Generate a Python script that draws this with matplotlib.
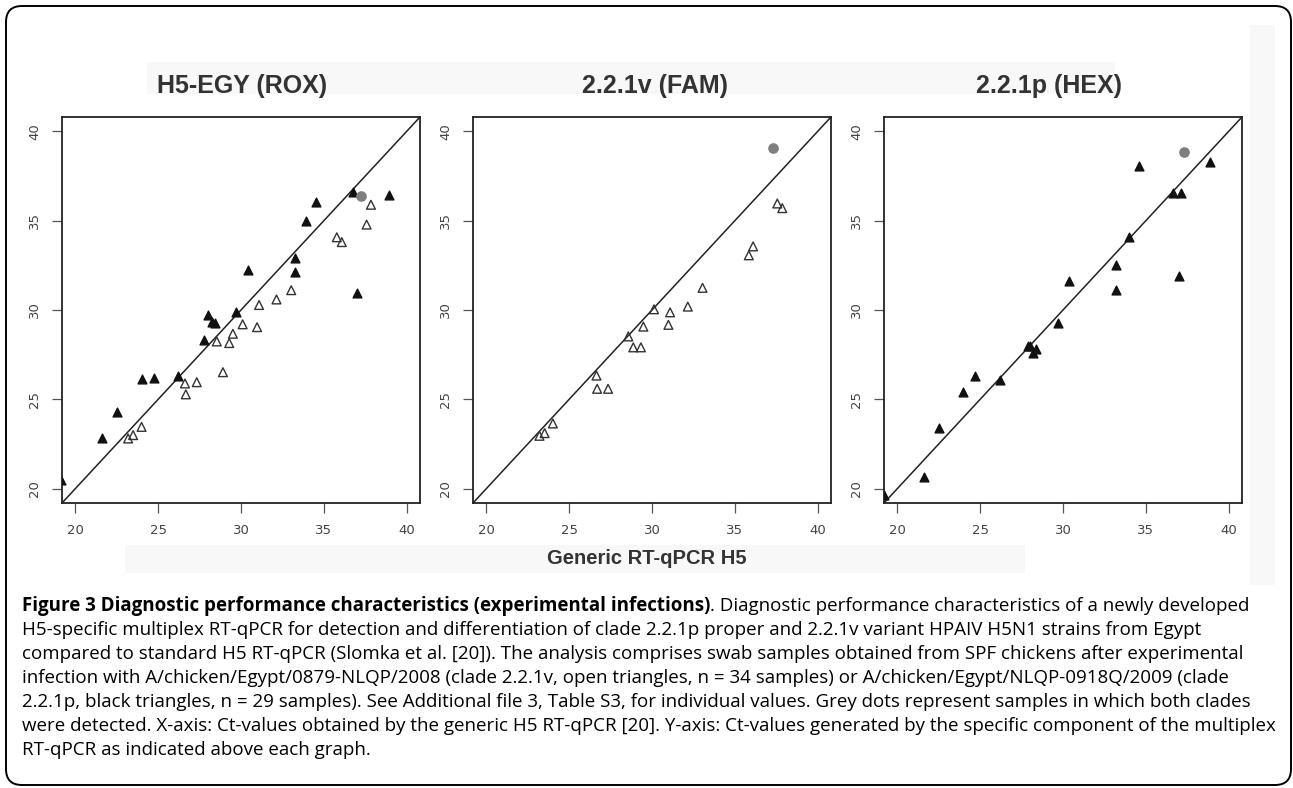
import matplotlib.pyplot as plt
from matplotlib.patches import FancyBboxPatch, Rectangle

# panel titles
titles = ["H5-EGY (ROX)", "2.2.1v (FAM)", "2.2.1p (HEX)"]
ticks = [20, 25, 30, 35, 40]

# H5-EGY (ROX)
rox_open_x = [37.84, 37.58, 35.78, 36.08, 33.03, 32.14, 31.09, 30.10, 30.97, 29.51,
              29.29, 28.54, 28.91, 26.62, 27.33, 26.67, 24.00, 23.49, 23.19]
rox_open_y = [35.89, 34.78, 34.07, 33.80, 31.11, 30.59, 30.28, 29.20, 29.04, 28.67,
              28.15, 28.24, 26.52, 25.89, 25.96, 25.28, 23.46, 23.00, 22.81]
rox_black_x = [36.73, 38.95, 34.50, 33.94, 33.23, 33.25, 30.40, 36.99, 29.72, 27.98,
               28.24, 28.45, 27.76, 24.00, 24.75, 26.22, 22.52, 21.59, 19.15]
rox_black_y = [36.61, 36.44, 36.02, 35.00, 32.91, 32.11, 32.26, 30.96, 29.91, 29.72,
               29.35, 29.30, 28.30, 26.15, 26.20, 26.30, 24.30, 22.81, 20.46]
rox_grey_x = [37.27]
rox_grey_y = [36.39]

# 2.2.1v (FAM)
fam_open_x = [37.56, 37.86, 36.10, 35.84, 33.05, 32.16, 31.09, 30.99, 30.12, 29.48,
              28.57, 28.87, 29.33, 26.65, 26.69, 27.35, 24.02, 23.52, 23.21]
fam_open_y = [35.96, 35.70, 33.56, 33.06, 31.24, 30.19, 29.87, 29.17, 30.04, 29.07,
              28.52, 27.91, 27.91, 26.33, 25.59, 25.59, 23.65, 23.11, 22.96]
fam_black_x = []
fam_black_y = []
fam_grey_x = [37.32]
fam_grey_y = [39.07]

# 2.2.1p (HEX)
hex_open_x = []
hex_open_y = []
hex_black_x = [38.89, 34.56, 36.63, 37.14, 33.96, 33.17, 36.98, 30.39, 33.21, 29.69,
               27.88, 28.00, 28.38, 28.22, 26.21, 24.71, 23.99, 22.54, 21.63, 19.17]
hex_black_y = [38.28, 38.04, 36.57, 36.52, 34.11, 32.54, 31.89, 31.61, 31.11, 29.30,
               27.96, 28.00, 27.83, 27.59, 26.07, 26.33, 25.43, 23.39, 20.65, 19.63]
hex_grey_x = [37.28]
hex_grey_y = [38.85]

caption_bold = "Figure 3 Diagnostic performance characteristics (experimental infections)"
caption_lines = [
    ". Diagnostic performance characteristics of a newly developed",
    "H5-specific multiplex RT-qPCR for detection and differentiation of clade 2.2.1p proper and 2.2.1v variant HPAIV H5N1 strains from Egypt",
    "compared to standard H5 RT-qPCR (Slomka et al. [20]). The analysis comprises swab samples obtained from SPF chickens after experimental",
    "infection with A/chicken/Egypt/0879-NLQP/2008 (clade 2.2.1v, open triangles, n = 34 samples) or A/chicken/Egypt/NLQP-0918Q/2009 (clade",
    "2.2.1p, black triangles, n = 29 samples). See Additional file 3, Table S3, for individual values. Grey dots represent samples in which both clades",
    "were detected. X-axis: Ct-values obtained by the generic H5 RT-qPCR [20]. Y-axis: Ct-values generated by the specific component of the multiplex",
    "RT-qPCR as indicated above each graph.",
]

W, H = 1293, 788
fig = plt.figure(figsize=(W / 100, H / 100), dpi=100)

# background layer in pixel coordinates
bg = fig.add_axes([0, 0, 1, 1])
bg.set_xlim(0, W)
bg.set_ylim(H, 0)
bg.axis("off")
bg.add_patch(FancyBboxPatch((6, 6), W - 8, H - 9,
                            boxstyle="round,pad=0,rounding_size=16",
                            fc="white", ec="black", lw=1.4))
for x0, y0, w, h in [(147, 62, 968, 32), (125, 545, 900, 28), (1250, 25, 25, 560)]:
    bg.add_patch(Rectangle((x0, y0), w, h, fc="#f8f8f8", ec="none"))

panels = [
    (62, rox_open_x, rox_open_y, rox_black_x, rox_black_y, rox_grey_x, rox_grey_y),
    (473, fam_open_x, fam_open_y, fam_black_x, fam_black_y, fam_grey_x, fam_grey_y),
    (884, hex_open_x, hex_open_y, hex_black_x, hex_black_y, hex_grey_x, hex_grey_y),
]
title_x = [242, 655, 1049]

top, bottom = 117, 503
for i, (left, ox, oy, bx, by, gx, gy) in enumerate(panels):
    ax = fig.add_axes([left / W, 1 - bottom / H, 358 / W, (bottom - top) / H])
    ax.set_xlim(19.2, 40.8)
    ax.set_ylim(19.2, 40.8)
    ax.plot([19.2, 40.8], [19.2, 40.8], color="#222", lw=1.1, zorder=1)
    ax.scatter(ox, oy, marker="^", s=40, facecolors="none", edgecolors="#333",
               linewidths=1.0, zorder=3)
    ax.scatter(bx, by, marker="^", s=40, color="#111", zorder=3)
    ax.scatter(gx, gy, marker="o", s=44, color="#7f7f7f", zorder=4)
    ax.set_xticks(ticks)
    ax.set_yticks(ticks)
    ax.tick_params(direction="out", length=7, width=0.9, color="#555",
                   labelcolor="#444", labelsize=9.5, pad=8)
    ax.tick_params(axis="y", labelrotation=90)
    for t in ax.get_yticklabels():
        t.set_va("center")
    for s in ax.spines.values():
        s.set_color("#222")
        s.set_linewidth(1.3)
    bg.text(title_x[i], 86, titles[i], ha="center", va="center", fontsize=18,
            fontweight="bold", color="#333", family="Liberation Sans")

bg.text(647, 559, "Generic RT-qPCR H5", ha="center", va="center", fontsize=14.5,
        fontweight="bold", color="#333", family="Liberation Sans")

# caption
cap_x, cap_y0, cap_dy = 22, 611, 24.0
tb = bg.text(cap_x, cap_y0, caption_bold, ha="left", va="baseline", fontsize=13.5,
             fontweight="bold", family="Open Sans", color="black")
fig.canvas.draw()
bw = tb.get_window_extent().width
bg.text(cap_x + bw, cap_y0, caption_lines[0], ha="left", va="baseline",
        fontsize=13.5, family="Open Sans", color="black")
for k, line in enumerate(caption_lines[1:], start=1):
    bg.text(cap_x, cap_y0 + k * cap_dy, line, ha="left", va="baseline",
            fontsize=13.5, family="Open Sans", color="black")

fig.savefig("out.png", dpi=100)
